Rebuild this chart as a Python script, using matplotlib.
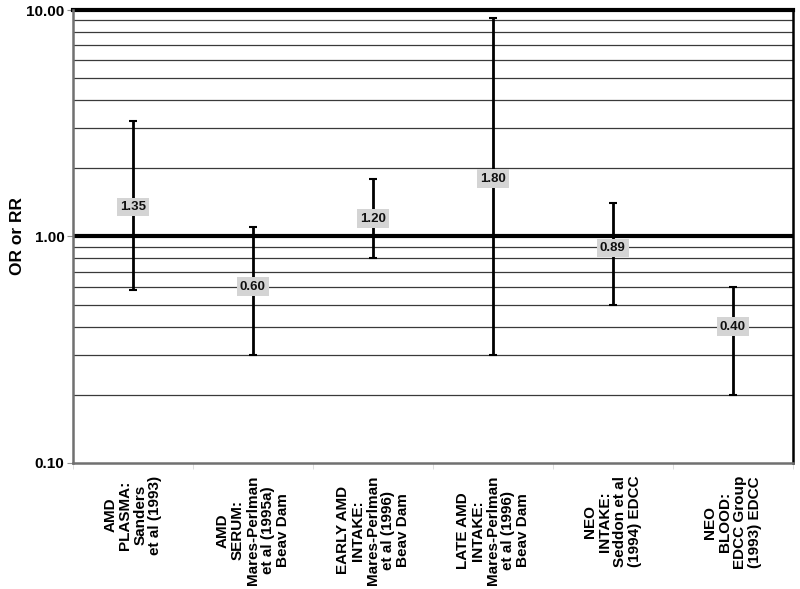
import matplotlib
matplotlib.use("Agg")
import matplotlib.pyplot as plt
from matplotlib.ticker import FixedLocator, NullFormatter
import numpy as np

categories = [
    "AMD\nPLASMA:\nSanders\net al (1993)",
    "AMD\nSERUM:\nMares-Perlman\net al (1995a)\nBeav Dam",
    "EARLY AMD\nINTAKE:\nMares-Perlman\net al (1996)\nBeav Dam",
    "LATE AMD\nINTAKE:\nMares-Perlman\net al (1996)\nBeav Dam",
    "NEO\nINTAKE:\nSeddon et al\n(1994) EDCC",
    "NEO\nBLOOD:\nEDCC Group\n(1993) EDCC",
]
estimates = [1.35, 0.60, 1.20, 1.80, 0.89, 0.40]
lower = [0.58, 0.30, 0.80, 0.30, 0.50, 0.20]
upper = [3.25, 1.10, 1.80, 9.20, 1.40, 0.60]
yticks = [0.1, 1.0, 10.0]
ytick_labels = ["0.10", "1.00", "10.00"]

plt.rcParams['font.family'] = ['Liberation Sans', 'DejaVu Sans']
plt.rcParams['font.weight'] = 'bold'

fig = plt.figure(figsize=(8, 5.89), dpi=100)
ax = fig.add_axes([0.091, 0.214, 0.9, 0.769])

x = np.arange(len(categories))
ax.set_yscale('log')
ax.set_ylim(0.1, 10)
ax.set_xlim(-0.5, len(categories) - 0.5)

# gridlines at minor values
minor_vals = [v * d for d in (0.1, 1.0) for v in range(2, 10)]
for v in minor_vals:
    ax.axhline(v, color='#3a3a3a', lw=0.9, zorder=1)
ax.axhline(1.0, color='black', lw=3.0, zorder=2)
ax.axhline(10.0, color='black', lw=3.0, zorder=2, clip_on=False)

est = np.array(estimates)
lo = np.array(lower)
hi = np.array(upper)
ax.errorbar(x, est, yerr=[est - lo, hi - est], fmt='none', ecolor='black',
            elinewidth=2.0, capsize=3, capthick=1.5, zorder=3)

for xi, e in zip(x, estimates):
    ax.text(xi, e, f"{e:.2f}", ha='center', va='center', fontsize=9.5,
            fontweight='bold', zorder=4, color='#111111',
            bbox=dict(boxstyle='square,pad=0.25', facecolor='#d4d4d4',
                      edgecolor='none'))

ax.yaxis.set_major_locator(FixedLocator(yticks))
ax.set_yticklabels(ytick_labels, fontsize=11, fontweight='bold')
ax.yaxis.set_minor_locator(FixedLocator([]))
ax.yaxis.set_minor_formatter(NullFormatter())
ax.tick_params(axis='y', which='major', length=4, color='#909090', pad=2)

ax.set_xticks(x)
ax.set_xticklabels(categories, rotation=90, fontsize=11, fontweight='bold',
                   ha='center', va='top', multialignment='center',
                   linespacing=1.08)
ax.tick_params(axis='x', which='major', length=0, pad=9)
ax.set_xticks(np.arange(len(categories) + 1) - 0.5, minor=True)
ax.tick_params(axis='x', which='minor', length=4, color='#d8d8d8')

ax.set_ylabel("OR or RR", fontsize=12.5, fontweight='bold')
ax.yaxis.set_label_coords(-0.066, 0.5)

for s in ('left', 'bottom'):
    ax.spines[s].set_color('#707070')
    ax.spines[s].set_linewidth(1.8)
ax.spines['right'].set_color('black')
ax.spines['right'].set_linewidth(1.8)
ax.spines['top'].set_visible(False)

fig.savefig("out.png", dpi=100)
